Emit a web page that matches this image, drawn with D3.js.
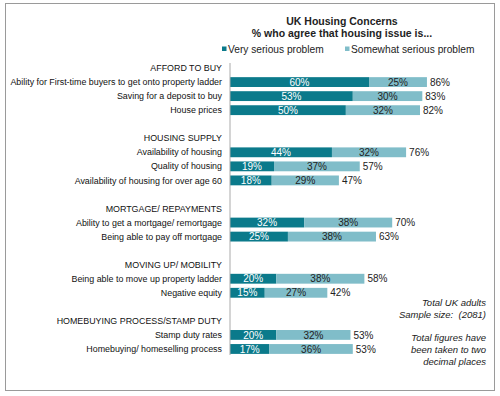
<!DOCTYPE html>
<html>
<head>
<meta charset="utf-8">
<script src="https://cdn.jsdelivr.net/npm/d3@7"></script>
<style>
  body { margin: 0; background: #fff; }
  svg { font-family: "Liberation Sans", Arial, sans-serif; }
</style>
</head>
<body>
<svg id="chart" width="500" height="396"></svg>
<script>
// rows in display order; "" marks a gap row, groups are headers
var groups = ["AFFORD TO BUY", "HOUSING SUPPLY", "MORTGAGE/ REPAYMENTS", "MOVING UP/ MOBILITY", "HOMEBUYING PROCESS/STAMP DUTY"];
var categories = [
  ["Ability for First-time buyers to get onto property ladder", "Saving for a deposit to buy", "House prices"],
  ["Availability of housing", "Quality of housing", "Availability of housing for over age 60"],
  ["Ability to get a mortgage/ remortgage", "Being able to pay off mortgage"],
  ["Being able to move up property ladder", "Negative equity"],
  ["Stamp duty rates", "Homebuying/ homeselling process"]
];
var verySerious = [[60, 53, 50], [44, 19, 18], [32, 25], [20, 15], [20, 17]];
var somewhatSerious = [[25, 30, 32], [32, 37, 29], [38, 38], [38, 27], [32, 36]];
var totals = [[86, 83, 82], [76, 57, 47], [70, 63], [58, 42], [53, 53]];
var seriesNames = ["Very serious problem", "Somewhat serious problem"];
var colors = ["#0b7a8b", "#80bdc9"];

var rows = [];
groups.forEach(function (g, gi) {
  if (gi > 0) rows.push({ key: "gap" + gi, type: "gap" });
  rows.push({ key: "h" + gi, type: "header", label: g });
  categories[gi].forEach(function (c, ci) {
    rows.push({ key: "r" + gi + "_" + ci, type: "bar", label: c,
      v1: verySerious[gi][ci], v2: somewhatSerious[gi][ci], total: totals[gi][ci] });
  });
});

var svg = d3.select("#chart");
var x0 = 230;

var x = d3.scaleLinear().domain([0, 100]).range([x0, x0 + 231.7]);
var y = d3.scaleBand().domain(rows.map(function (d) { return d.key; }))
  .range([61, 356]).paddingInner(0.3).paddingOuter(0.15);

// frame
svg.append("rect")
  .attr("x", 5.5).attr("y", 3.5).attr("width", 489).attr("height", 387)
  .attr("fill", "none").attr("stroke", "#9a9a9a").attr("stroke-width", 1);

// title
svg.append("text").attr("x", 342).attr("y", 25).attr("text-anchor", "middle")
  .attr("font-size", 10.5).attr("font-weight", "bold").attr("fill", "#222")
  .text("UK Housing Concerns");
svg.append("text").attr("x", 342).attr("y", 37).attr("text-anchor", "middle")
  .attr("font-size", 10.5).attr("font-weight", "bold").attr("fill", "#222")
  .text("% who agree that housing issue is...");

// legend
var legendX = [222, 345];
seriesNames.forEach(function (n, i) {
  svg.append("rect").attr("x", legendX[i]).attr("y", 46.5).attr("width", 4.5).attr("height", 4.5)
    .attr("fill", colors[i]);
  svg.append("text").attr("x", legendX[i] + 6).attr("y", 53)
    .attr("font-size", 10.2).attr("fill", "#222").text(n);
});

// labels
var barRows = rows.filter(function (d) { return d.type === "bar"; });
svg.selectAll("text.label").data(rows.filter(function (d) { return d.type !== "gap"; }))
  .enter().append("text")
  .attr("class", "label")
  .attr("x", x0 - 8)
  .attr("y", function (d) { return y(d.key) + y.bandwidth() / 2; })
  .attr("dy", "0.35em")
  .attr("text-anchor", "end")
  .attr("font-size", 8.9)
  .attr("fill", "#111")
  .text(function (d) { return d.label; });

// bars
svg.selectAll("rect.b1").data(barRows).enter().append("rect")
  .attr("class", "b1")
  .attr("x", x(0))
  .attr("y", function (d) { return y(d.key); })
  .attr("width", function (d) { return x(d.v1) - x(0); })
  .attr("height", y.bandwidth())
  .attr("fill", colors[0]);
svg.selectAll("rect.b2").data(barRows).enter().append("rect")
  .attr("class", "b2")
  .attr("x", function (d) { return x(d.v1); })
  .attr("y", function (d) { return y(d.key); })
  .attr("width", function (d) { return x(d.v1 + d.v2) - x(d.v1); })
  .attr("height", y.bandwidth())
  .attr("fill", colors[1]);

// value labels
svg.selectAll("text.v1").data(barRows).enter().append("text")
  .attr("x", function (d) { return x(d.v1 / 2); })
  .attr("y", function (d) { return y(d.key) + y.bandwidth() / 2; })
  .attr("dy", "0.36em").attr("text-anchor", "middle")
  .attr("font-size", 10).attr("fill", "#fff")
  .text(function (d) { return d.v1 + "%"; });
svg.selectAll("text.v2").data(barRows).enter().append("text")
  .attr("x", function (d) { return x(d.v1 + d.v2 / 2); })
  .attr("y", function (d) { return y(d.key) + y.bandwidth() / 2; })
  .attr("dy", "0.36em").attr("text-anchor", "middle")
  .attr("font-size", 10).attr("fill", "#222")
  .text(function (d) { return d.v2 + "%"; });
svg.selectAll("text.tot").data(barRows).enter().append("text")
  .attr("x", function (d) { return x(d.v1 + d.v2) + 3; })
  .attr("y", function (d) { return y(d.key) + y.bandwidth() / 2; })
  .attr("dy", "0.36em").attr("text-anchor", "start")
  .attr("font-size", 10).attr("fill", "#222")
  .text(function (d) { return d.total + "%"; });

// axis line
svg.append("line")
  .attr("x1", x0).attr("x2", x0).attr("y1", 63).attr("y2", 355)
  .attr("stroke", "#aaa").attr("stroke-width", 1);

// notes
var notes = [["Total UK adults", 303], ["Sample size:  (2081)", 315], ["Total figures have", 338], ["been taken to two", 350], ["decimal places", 362]];
svg.selectAll("text.note").data(notes).enter().append("text")
  .attr("x", 486).attr("y", function (d) { return d[1]; })
  .attr("dy", "0.35em").attr("text-anchor", "end")
  .attr("font-size", 9.5).attr("font-style", "italic").attr("fill", "#222")
  .style("white-space", "pre")
  .text(function (d) { return d[0]; });
</script>
</body>
</html>
